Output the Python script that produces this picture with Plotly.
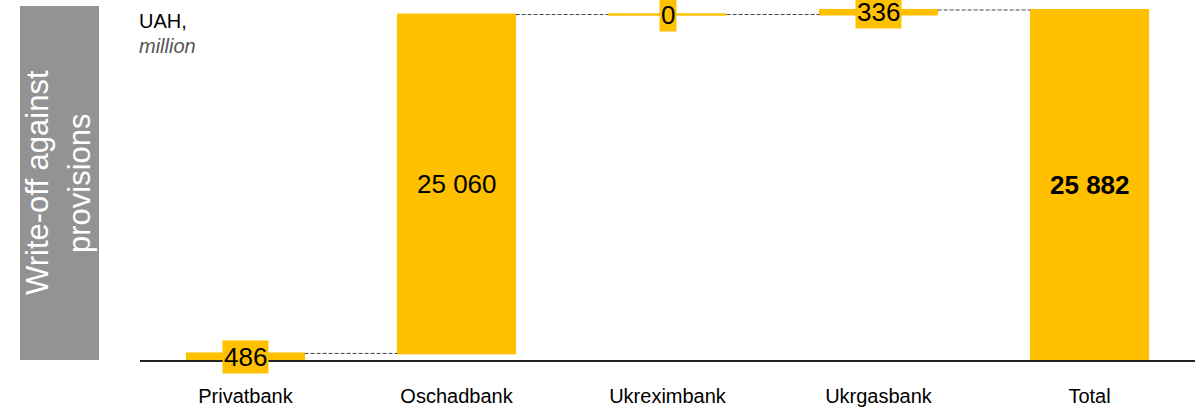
import plotly.graph_objects as go

categories = ["Privatbank", "Oschadbank", "Ukreximbank", "Ukrgasbank", "Total"]
values = [486, 25060, 0, 336, 25882]
measures = ["relative", "relative", "relative", "relative", "total"]
labels = ["486", "25 060", "0", "336", "<b>25 882</b>"]

GOLD = "#FFC000"
FONT = "Liberation Sans, Arial, sans-serif"
BAR_W = 0.56

fig = go.Figure()
fig.add_trace(go.Waterfall(
    x=categories, y=values, measure=measures,
    textposition="none",
    increasing=dict(marker=dict(color=GOLD, line=dict(color=GOLD, width=1))),
    decreasing=dict(marker=dict(color=GOLD, line=dict(color=GOLD, width=1))),
    totals=dict(marker=dict(color=GOLD, line=dict(color=GOLD, width=1))),
    connector=dict(mode="between", line=dict(color="#444444", width=1, dash="4px,2px")),
    width=BAR_W,
    hoverinfo="skip",
))

# value labels (+ visible stub for zero-valued steps)
cum = 0
for i, (cat, v, m, lab) in enumerate(zip(categories, values, measures, labels)):
    if m == "total":
        base, top = 0, v
    else:
        base, top = cum, cum + v
        cum += v
    mid = (base + top) / 2
    small = (top - base) < 2000
    if v == 0:
        fig.add_shape(type="line", xref="x", yref="y",
                      x0=i - BAR_W / 2, x1=i + BAR_W / 2, y0=base, y1=base,
                      line=dict(color=GOLD, width=2.5))
    fig.add_annotation(
        x=cat, y=mid, xref="x", yref="y", text=lab, showarrow=False,
        xanchor="center", yanchor="middle",
        font=dict(family=FONT, size=26, color="black"),
        bgcolor=GOLD if small else "rgba(0,0,0,0)",
        borderpad=1,
    )

# left grey box
fig.add_shape(type="rect", xref="paper", yref="paper",
              x0=-120/1055, x1=-41/1055, y0=0, y1=1,
              fillcolor="#939393", line=dict(width=0), layer="below")
fig.add_annotation(xref="paper", yref="paper", x=-103/1055, y=(362-184)/356,
                   xanchor="center", yanchor="middle",
                   text="Write-off against", showarrow=False,
                   textangle=-90, font=dict(family=FONT, size=31, color="white"))
fig.add_annotation(xref="paper", yref="paper", x=-61/1055, y=(362-184)/356,
                   xanchor="center", yanchor="middle",
                   text="provisions", showarrow=False,
                   textangle=-90, font=dict(family=FONT, size=31, color="white"))

fig.add_annotation(xref="paper", yref="paper", x=-3/1055, y=(362-21)/356,
                   xanchor="left", yanchor="middle",
                   text="UAH,", showarrow=False,
                   font=dict(family=FONT, size=20, color="black"))
fig.add_annotation(xref="paper", yref="paper", x=-3/1055, y=(362-46)/356,
                   xanchor="left", yanchor="middle",
                   text="<i>million</i>", showarrow=False,
                   font=dict(family=FONT, size=20, color="#555555"))

fig.update_layout(
    width=1198, height=410,
    margin=dict(l=140, r=3, t=6, b=48),
    plot_bgcolor="white", paper_bgcolor="white",
    showlegend=False,
    font=dict(family=FONT),
    xaxis=dict(range=[-0.5, 4.5], showline=True, linecolor="#222222", linewidth=2,
               ticks="outside", ticklen=17, tickcolor="rgba(0,0,0,0)",
               tickfont=dict(family=FONT, size=20, color="black"), showgrid=False),
    yaxis=dict(range=[0, 26176], visible=False, showgrid=False, zeroline=False),
)

fig.write_html("out.html", config={"displayModeBar": False},
               post_script="document.body.style.margin='0';")
